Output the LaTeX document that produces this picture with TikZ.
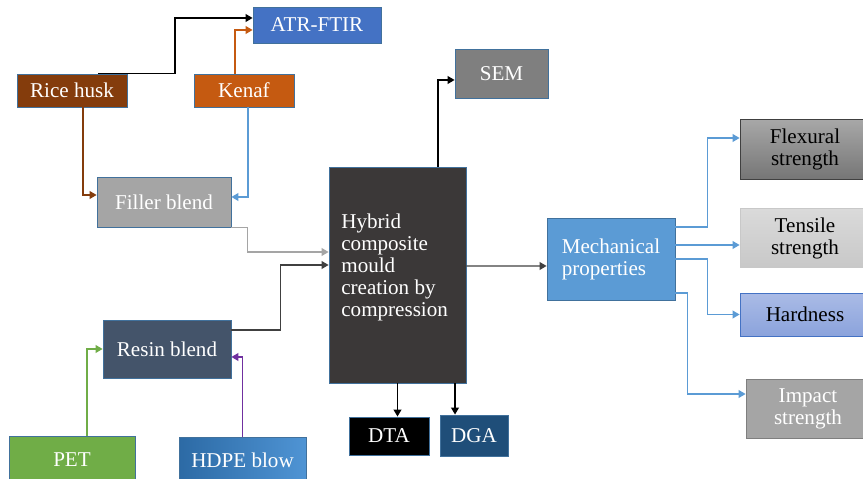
\documentclass[tikz,border=0pt]{standalone}
\usepackage{fontspec}
\setmainfont{Liberation Serif}
\usetikzlibrary{arrows.meta}

\definecolor{atrblue}{HTML}{4472C4}
\definecolor{ricebrown}{HTML}{843C0C}
\definecolor{kenaforange}{HTML}{C55A11}
\definecolor{fillergray}{HTML}{A5A5A5}
\definecolor{semgray}{HTML}{7F7F7F}
\definecolor{hybriddark}{HTML}{3B3838}
\definecolor{mechblue}{HTML}{5B9BD5}
\definecolor{resinslate}{HTML}{44546A}
\definecolor{petgreen}{HTML}{70AD47}
\definecolor{dgablue}{HTML}{1F4E79}
\definecolor{edgeblue}{HTML}{41719C}
\definecolor{hdpeleft}{HTML}{2C6AA5}
\definecolor{hdperight}{HTML}{4F94D4}
\definecolor{hardtop}{HTML}{AABBE6}
\definecolor{hardbot}{HTML}{8BA3DC}
\definecolor{flextop}{HTML}{A8A8A8}
\definecolor{flexbot}{HTML}{767676}
\definecolor{tenstop}{HTML}{DADADA}
\definecolor{tensbot}{HTML}{C8C8C8}
\definecolor{linegray}{HTML}{404040}
\definecolor{hdpepurple}{HTML}{7030A0}

\begin{document}
\begin{tikzpicture}[x=0.02cm,y=-0.02cm,
  box/.style={draw=edgeblue,line width=0.5pt,inner sep=0pt,text=white,
    font=\fontsize{12}{12.5}\selectfont,align=center},
  conn/.style={line width=0.8pt,-{Triangle[length=4pt,width=4.5pt]}}]
\useasboundingbox (0,0) rectangle (863,479);

%% Sources
\node[box,fill=ricebrown,minimum width=2.2cm,minimum height=0.66cm] (rice) at (72,90.5) {Rice husk};
\node[box,fill=kenaforange,minimum width=2cm,minimum height=0.66cm] (kenaf) at (244,90.5) {Kenaf};
\node[box,fill=atrblue,minimum width=2.56cm,minimum height=0.72cm] (atr) at (317,25) {ATR-FTIR};
\node[box,fill=fillergray,minimum width=2.68cm,minimum height=1cm] (filler) at (164,202) {Filler blend};
\node[box,fill=resinslate,minimum width=2.56cm,minimum height=1.16cm] (resin) at (167,349) {Resin blend};
\node[box,fill=petgreen,minimum width=2.52cm,minimum height=0.96cm] (pet) at (72,460) {PET};
\node[box,left color=hdpeleft,right color=hdperight,minimum width=2.54cm,minimum height=0.94cm] (hdpe) at (242.5,460.5) {HDPE blow};

%% Moulding and tests
\node[box,fill=hybriddark,minimum width=2.74cm,minimum height=4.32cm] (hybrid) at (397.5,275) {};
\node[anchor=north west,text=white,align=left,inner sep=0pt,
  font=\fontsize{12}{12.5}\selectfont] (hybridtxt) at (341,214)
  {Hybrid\\composite\\mould\\creation by\\compression};
\node[box,fill=semgray,minimum width=1.86cm,minimum height=0.98cm] (sem) at (501.5,73.5) {SEM};
\node[box,fill=black,minimum width=1.6cm,minimum height=0.76cm] (dta) at (389,436) {DTA};
\node[box,fill=dgablue,minimum width=1.36cm,minimum height=0.82cm] (dga) at (474,435.5) {DGA};

%% Mechanical properties
\node[box,fill=mechblue,align=left,minimum width=2.56cm,minimum height=1.64cm] (mech) at (611,259) {Mechanical\\properties};
\node[box,draw=linegray,top color=flextop,bottom color=flexbot,text=black,minimum width=2.6cm,minimum height=1.2cm] (flex) at (805,149) {Flexural\\strength};
\node[box,draw=tensbot,top color=tenstop,bottom color=tensbot,text=black,minimum width=2.6cm,minimum height=1.18cm] (tens) at (805,238) {Tensile\\strength};
\node[box,draw=atrblue,top color=hardtop,bottom color=hardbot,text=black,minimum width=2.6cm,minimum height=0.86cm] (hard) at (805,314.5) {Hardness};
\node[box,draw=semgray,fill=fillergray,minimum width=2.48cm,minimum height=1.18cm] (impact) at (808,409) {Impact\\strength};

%% Connectors
\draw[conn,black] ([xshift=0.52cm]rice.north) -- ++(77,0) |- ([yshift=0.14cm]atr.west);
\draw[conn,kenaforange] ([xshift=-0.18cm]kenaf.north) |- ([yshift=-0.1cm]atr.west);
\draw[conn,mechblue] ([xshift=0.08cm]kenaf.south) |- ([yshift=0.1cm]filler.east);
\draw[conn,ricebrown] ([xshift=0.22cm]rice.south) |- ([yshift=0.14cm]filler.west);
\draw[conn,fillergray] (filler.south east) -- ++(16,0) |- ([yshift=0.46cm]hybrid.west);
\draw[conn,linegray] ([yshift=0.38cm]resin.east) -- ++(49,0) |- ([yshift=0.2cm]hybrid.west);
\draw[conn,petgreen] ([xshift=0.3cm]pet.north) |- (resin.west);
\draw[conn,hdpepurple] (hdpe.north) |- ([yshift=-0.16cm]resin.east);
\draw[conn,black] ([xshift=0.81cm]hybrid.north) |- ([yshift=-0.13cm]sem.west);
\draw[conn,black] (hybrid.south) -- (hybrid.south |- dta.north);
\draw[conn,black] ([xshift=-0.38cm]dga.north |- hybrid.south) -- ([xshift=-0.38cm]dga.north);
\draw[conn,linegray] ([yshift=0.18cm]hybrid.east) -- ([yshift=-0.14cm]mech.west);
\draw[conn,mechblue] ([yshift=0.64cm]mech.east) -- ++(32,0) |- ([yshift=0.22cm]flex.west);
\draw[conn,mechblue] ([yshift=0.28cm]mech.east) -- ([yshift=0.28cm]mech.east -| tens.west);
\draw[conn,mechblue] (mech.east) -- ++(32,0) |- (hard.west);
\draw[conn,mechblue] ([yshift=-0.68cm]mech.east) -- ++(12,0) |- ([yshift=0.3cm]impact.west);

\end{tikzpicture}
\end{document}
